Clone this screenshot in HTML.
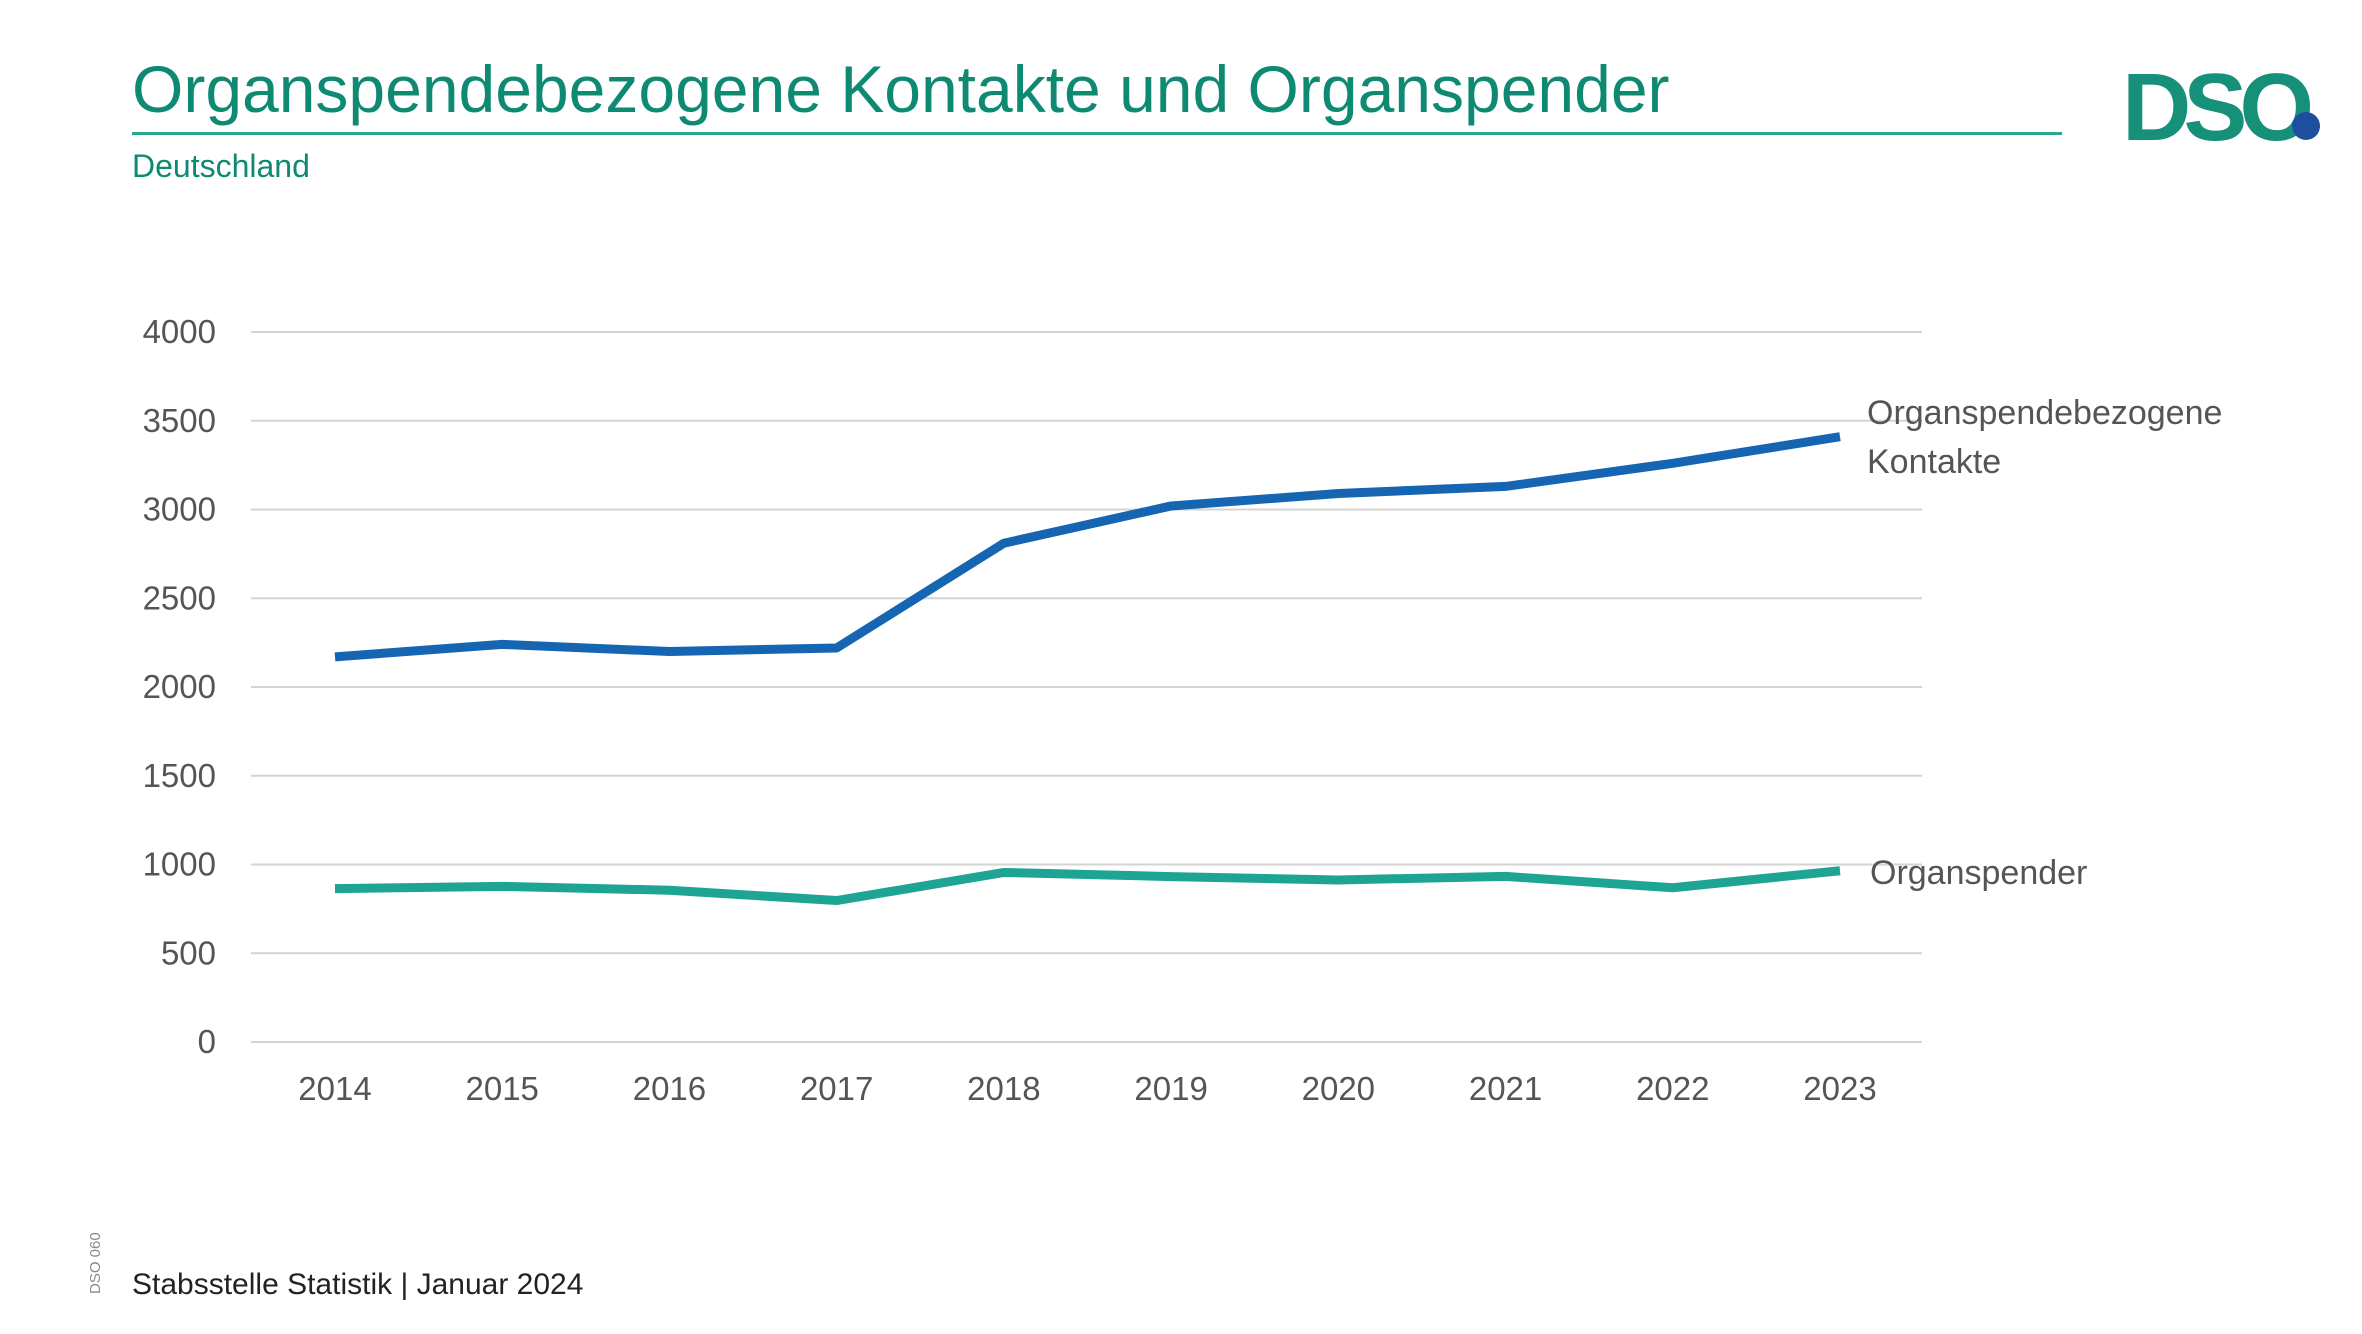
<!DOCTYPE html>
<html><head><meta charset="utf-8"><style>
body{margin:0;width:2362px;height:1329px;background:#fff;overflow:hidden;font-family:"Liberation Sans",sans-serif}
</style></head><body>
<svg width="2362" height="1329" viewBox="0 0 2362 1329">
<text x="132" y="112" font-size="66" fill="#0e8a73">Organspendebezogene Kontakte und Organspender</text>
<rect x="132" y="132" width="1930" height="3" fill="#2aa88f"/>
<text x="132" y="177" font-size="32" fill="#0e8a73">Deutschland</text>
<g>
<text x="2122" y="140" font-size="96" font-weight="bold" fill="#17907a" letter-spacing="-8">DSO</text>
<circle cx="2306" cy="126" r="14" fill="#1d4fa0"/>
</g>
<g id="grid"></g><g id="ylab"></g><g id="xlab"></g><g id="lines"></g>
<text x="1867" y="424" font-size="34" fill="#555">Organspendebezogene</text>
<text x="1867" y="473" font-size="34" fill="#555">Kontakte</text>
<text x="1870" y="884" font-size="34" fill="#555">Organspender</text>
<text x="132" y="1294" font-size="30" fill="#222">Stabsstelle Statistik | Januar 2024</text>
<text transform="translate(100,1294) rotate(-90)" font-size="15" fill="#888">DSO 060</text>
</svg>
<script>
const years=["2014","2015","2016","2017","2018","2019","2020","2021","2022","2023"];
const kontakte=[2170,2240,2200,2220,2810,3020,3090,3130,3260,3410];
const spender=[864,877,855,797,955,932,913,933,869,965];
const yTicks=[0,500,1000,1500,2000,2500,3000,3500,4000];
const NS="http://www.w3.org/2000/svg";
const y=v=>1042-v*(1042-332)/4000;
const x=i=>335+i*(1840-335)/9;
function mk(t,a,p){const e=document.createElementNS(NS,t);for(const k in a)e.setAttribute(k,a[k]);document.getElementById(p).appendChild(e);return e;}
yTicks.forEach(v=>{
 const l=mk('line',{x1:251,x2:1922,y1:y(v),y2:y(v),stroke:'#d4d4d4','stroke-width':2},'grid');
 
 
 const t=mk('text',{x:216,y:y(v)+11,'text-anchor':'end','font-size':33,fill:'#555'},'ylab');
 t.textContent=v;
 
 
});
years.forEach((yr,i)=>{
 const t=mk('text',{x:x(i),y:1100,'text-anchor':'middle','font-size':33,fill:'#555'},'xlab');
 t.textContent=yr;
 
 
});
[[kontakte,'#1565b3','line-kontakte'],[spender,'#1ea493','line-organspender']].forEach(([d,c,n])=>{
 const p=mk('polyline',{points:d.map((v,i)=>x(i)+','+y(v)).join(' '),fill:'none',stroke:c,'stroke-width':9,'stroke-linejoin':'round'},'lines');
 
 
});
</script>
</body></html>
